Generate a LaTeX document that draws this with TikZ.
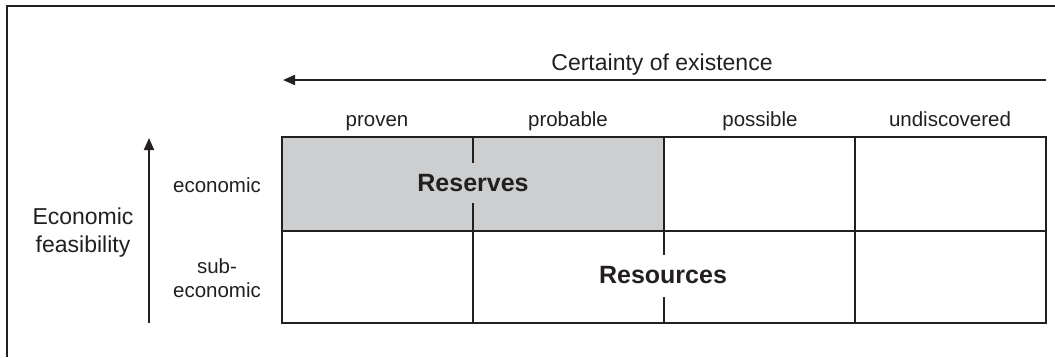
\documentclass[tikz,border=0pt]{standalone}
\usepackage{fontspec}
\setmainfont{Liberation Sans}
\usetikzlibrary{arrows.meta}
\definecolor{resgray}{RGB}{205,206,208}
\definecolor{ink}{RGB}{35,31,32}
\tikzset{
  rule/.style={draw=ink, line width=1.8pt},
  axis/.style={draw=ink, line width=1.8pt, -{Triangle[length=12pt,width=10pt]}},
  big/.style={font=\fontsize{23}{28}\selectfont, text=ink, inner sep=0pt},
  small/.style={font=\fontsize{20.5}{24}\selectfont, text=ink, inner sep=0pt},
  bold/.style={font=\fontsize{25}{28}\selectfont\bfseries, text=ink, inner sep=0pt},
}
\begin{document}
\begin{tikzpicture}[x=1pt,y=-1pt]
\useasboundingbox (0,0) rectangle (1055,357);
% frame
\draw[rule] (7,357) -- (7,6) -- (1055,6);
% gray reserves area
\fill[resgray] (282,137) rectangle (664,230.7);
% grid
\draw[rule] (282,137) rectangle (1046,323);
\draw[rule] (282,230.7) -- (1046,230.7);
\draw[rule] (473,137) -- (473,163);
\draw[rule] (473,203) -- (473,323);
\draw[rule] (664,137) -- (664,255);
\draw[rule] (664,297) -- (664,323);
\draw[rule] (855,137) -- (855,323);
% texts
\node[bold, anchor=base] (reserves) at (473,191.7) {Reserves};
\node[bold, anchor=base] (resources) at (663,283) {Resources};
\node[big, anchor=base] (certainty) at (662,70.7) {Certainty of existence};
\node[small, anchor=base] (proven) at (377,126) {proven};
\node[small, anchor=base] (probable) at (568,126) {probable};
\node[small, anchor=base] (possible) at (760,126) {possible};
\node[small, anchor=base] (undisc) at (950,126) {undiscovered};
\node[small, anchor=base] (econ) at (217,192.7) {economic};
\node[small, anchor=base] (sub1) at (217,273) {sub-};
\node[small, anchor=base] (sub2) at (217,297) {economic};
\node[big, anchor=base] (feas1) at (83,224) {Economic};
\node[big, anchor=base] (feas2) at (83,252) {feasibility};
% arrows
\coordinate (hA) at (1046,80);
\coordinate (hB) at (283,80);
\coordinate (vA) at (149,323);
\coordinate (vB) at (149,138);
\draw[axis] (hA) -- (hB);
\draw[axis] (vA) -- (vB);
\end{tikzpicture}
\end{document}
